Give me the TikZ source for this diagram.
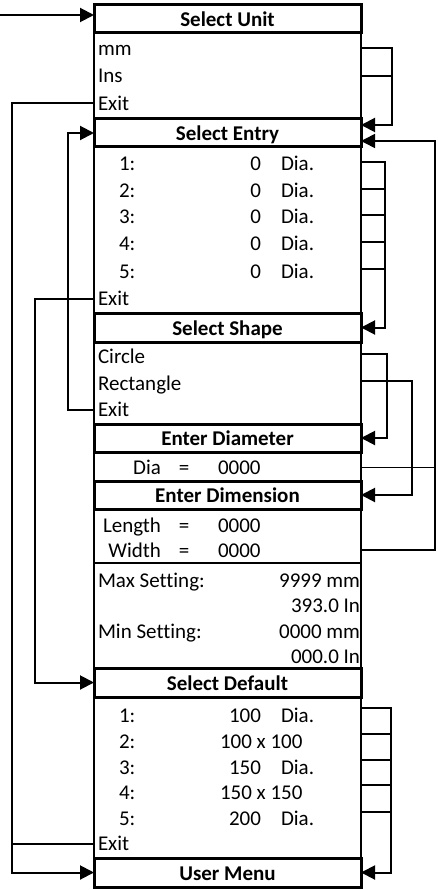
\documentclass[tikz,border=0pt]{standalone}
\usepackage{fontspec}
\setmainfont{Carlito}[Ligatures=CommonOff]
\usetikzlibrary{arrows.meta,calc}
\newcommand\fs{\fontsize{21pt}{25pt}\selectfont}
\begin{document}
\begin{tikzpicture}[x=1pt,y=-1pt,
  hdr/.style={draw, line width=3pt, minimum width=267pt, inner sep=0pt, outer sep=0pt, font=\bfseries\fs, text height=15pt, text depth=0pt},
  bod/.style={draw, line width=2.5pt, minimum width=267pt, inner sep=0pt, outer sep=0pt},
  txt/.style={font=\fs, inner sep=0pt, outer sep=0pt, text height=14pt, text depth=0pt},
  conn/.style={line width=2pt},
  thinconn/.style={line width=1.6pt},
  arr/.style={line width=2pt, -{Triangle[length=14pt,width=14pt]}},
  thinarr/.style={line width=1.6pt, -{Triangle[length=14pt,width=14pt]}},
]
\fill[white] (0,0) rectangle (437,890);
\useasboundingbox (0,0) rectangle (437,890);

% boxes
\node[hdr, minimum height=28pt] (H1) at (227.5,19) {Select Unit};
\node[bod, minimum height=86pt] (B1) at (227.5,76) {};
\node[hdr, minimum height=28pt] (H2) at (227.5,133) {Select Entry};
\node[bod, minimum height=166pt] (B2) at (227.5,230) {};
\node[hdr, minimum height=29pt] (H3) at (227.5,327.5) {Select Shape};
\node[bod, minimum height=82pt] (B3) at (227.5,383) {};
\node[hdr, minimum height=28pt] (H4) at (227.5,438) {Enter Diameter};
\node[bod, minimum height=29pt] (B4) at (227.5,466.5) {};
\node[hdr, minimum height=28pt] (H5) at (227.5,495) {Enter Dimension};
\node[bod, minimum height=54pt] (B5) at (227.5,536) {};
\node[bod, minimum height=105pt] (B6) at (227.5,615.5) {};
\node[hdr, minimum height=29pt] (H6) at (227.5,682.5) {Select Default};
\node[bod, minimum height=161pt] (B7) at (227.5,777.5) {};
\node[hdr, minimum height=29pt] (H7) at (227.5,872.5) {User Menu};

% Select Unit rows
\node[txt, anchor=west] (u1) at (98,48.5) {mm};
\node[txt, anchor=west] (u2) at (98,76) {Ins};
\node[txt, anchor=west] (u3) at (98,103.5) {Exit};

% Select Entry rows
\foreach \i/\y in {1/164,2/191,3/217,4/244,5/271} {
  \node[txt, anchor=west] (e\i) at (119,\y) {\i:};
  \node[txt, anchor=east] (ev\i) at (261,\y) {0};
  \node[txt, anchor=west] (ed\i) at (281,\y) {Dia.};
}
\node[txt, anchor=west] (ex) at (98,298.5) {Exit};

% Select Shape rows
\node[txt, anchor=west] (s1) at (98,356) {Circle};
\node[txt, anchor=west] (s2) at (98,383) {Rectangle};
\node[txt, anchor=west] (sx) at (98,409.5) {Exit};

% Enter Diameter
\node[txt, anchor=east] (dl) at (161,467.5) {Dia};
\node[txt] (deq) at (184,467.5) {=};
\node[txt, anchor=west] (dv) at (218,467.5) {0000};

% Enter Dimension
\node[txt, anchor=east] (ll) at (161,525) {Length};
\node[txt] (leq) at (184,525) {=};
\node[txt, anchor=west] (lv) at (218,525) {0000};
\node[txt, anchor=east] (w) at (161,550) {Width};
\node[txt] (weq) at (184,550) {=};
\node[txt, anchor=west] (wv) at (218,550) {0000};

% Settings
\node[txt, anchor=west] (mx) at (98,580) {Max Setting:};
\node[txt, anchor=east] (mxa) at (360,580) {9999 mm};
\node[txt, anchor=east] (mxb) at (360,605.5) {393.0 In};
\node[txt, anchor=west] (mn) at (98,631) {Min Setting:};
\node[txt, anchor=east] (mna) at (360,631) {0000 mm};
\node[txt, anchor=east] (mnb) at (360,656.5) {000.0 In};

% Select Default rows
\node[txt, anchor=west] (d1) at (119,715) {1:};
\node[txt, anchor=east] (dv1) at (261,715) {100};
\node[txt, anchor=west] (dd1) at (281,715) {Dia.};
\node[txt, anchor=west] (d2) at (119,741) {2:};
\node[txt, anchor=west] (dv2) at (220,741) {100 x 100};
\node[txt, anchor=west] (d3) at (119,767) {3:};
\node[txt, anchor=east] (dv3) at (261,767) {150};
\node[txt, anchor=west] (dd3) at (281,767) {Dia.};
\node[txt, anchor=west] (d4) at (119,792) {4:};
\node[txt, anchor=west] (dv4) at (220,792) {150 x 150};
\node[txt, anchor=west] (d5) at (119,818.5) {5:};
\node[txt, anchor=east] (dv5) at (261,818.5) {200};
\node[txt, anchor=west] (dd5) at (281,818.5) {Dia.};
\node[txt, anchor=west] (dx) at (98,843.5) {Exit};

% entry arrow
\coordinate (start) at (0,15);
\draw[arr] (start) -- ([yshift=4pt]H1.west);

% left connectors
\draw[arr] (B1.west |- u3) -- ++(-82,0) |- (H7.west);
\draw[conn] (B7.west |- dx) -- ++(-82,0);
\draw[arr] (B3.west |- sx) -- ++(-26,0) |- (H2.west);
\draw[arr] (B2.west |- ex) -- ++(-59,0) |- (H6.west);

% right connectors
\draw[arr] (B1.east |- u1) -- ++(31,0) |- ([yshift=8pt]H2.east);
\draw[conn] (B1.east |- u2) -- ++(31,0);

\draw[arr] ($(B2.east |- e1)+(0,-2)$) -- ++(24,0) |- (H3.east);
\foreach \i in {2,3,4,5} {
  \draw[conn] ($(B2.east |- e\i)+(0,-2)$) -- ++(24,0);
}

\draw[arr] ($(B3.east |- s1)+(0,-2)$) -- ++(26,0) |- (H4.east);
\draw[arr] ($(B3.east |- s2)+(0,-2)$) -- ++(51,0) |- (H5.east);

\draw[thinarr] (B5.east |- w) -- ++(74,0) |- ([yshift=-8pt]H2.east);
\draw[thinconn] (B4.east |- dl) -- ++(74,0);

\draw[arr] ($(B7.east |- d1)+(0,-7)$) -- ++(30,0) |- (H7.east);
\foreach \i in {2,3,4,5} {
  \draw[conn] ($(B7.east |- d\i)+(0,-7)$) -- ++(30,0);
}
\end{tikzpicture}
\end{document}
